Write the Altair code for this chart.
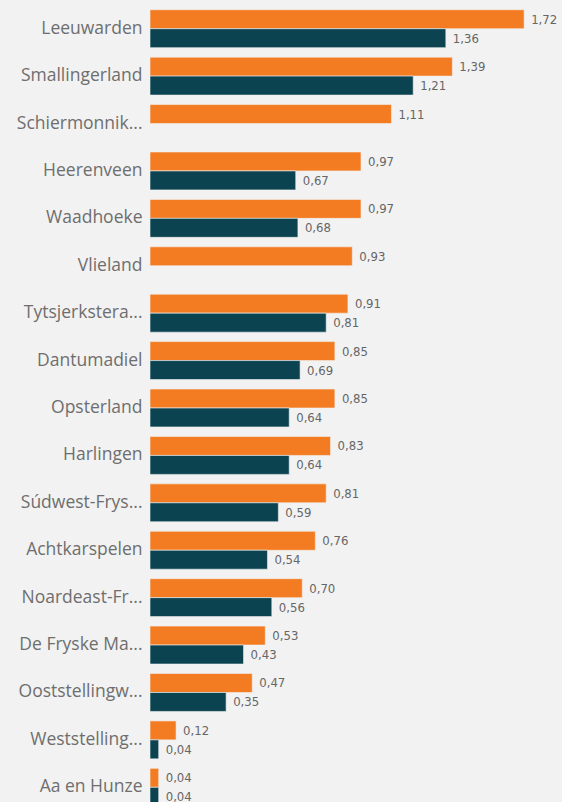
import altair as alt
import pandas as pd

categories = [
    "Leeuwarden", "Smallingerland", "Schiermonnik...", "Heerenveen", "Waadhoeke",
    "Vlieland", "Tytsjerkstera...", "Dantumadiel", "Opsterland", "Harlingen",
    "Súdwest-Frys...", "Achtkarspelen", "Noardeast-Fr...", "De Fryske Ma...",
    "Ooststellingw...", "Weststelling...", "Aa en Hunze",
]
series_a = [1.72, 1.39, 1.11, 0.97, 0.97, 0.93, 0.91, 0.85, 0.85, 0.83, 0.81, 0.76, 0.70, 0.53, 0.47, 0.12, 0.04]
series_b = [1.36, 1.21, None, 0.67, 0.68, None, 0.81, 0.69, 0.64, 0.64, 0.59, 0.54, 0.56, 0.43, 0.35, 0.04, 0.04]
series_names = ["A", "B"]
colors = ["#F37B21", "#0B4350"]

rows = []
for c, a, b in zip(categories, series_a, series_b):
    rows.append({"cat": c, "series": "A", "value": a})
    if b is not None:
        rows.append({"cat": c, "series": "B", "value": b})
df = pd.DataFrame(rows)

y_enc = alt.Y("cat:N", sort=categories,
              scale=alt.Scale(range=[5, 811], paddingInner=0.2, paddingOuter=0.1),
              axis=alt.Axis(title=None, ticks=False, domain=False, labelPadding=8,
                            labelFont="Open Sans", labelFontSize=17.5, labelColor="#6E6E6E",
                            labelLimit=200))
yoff = alt.YOffset("series:N", sort=series_names,
                   scale=alt.Scale(paddingInner=0, paddingOuter=0))
x_enc = alt.X("value:Q", scale=alt.Scale(domain=[0, 1.894], nice=False, zero=True),
              axis=None)

base = alt.Chart(df).encode(y=y_enc, yOffset=yoff, x=x_enc)

bars = base.mark_bar(clip=True, stroke="#f2f2f2", strokeWidth=0.6).encode(
    color=alt.Color("series:N", scale=alt.Scale(domain=series_names, range=colors), legend=None)
)

labels = base.transform_calculate(
    lbl="replace(format(datum.value, '.2f'), '.', ',')"
).mark_text(align="left", baseline="middle", dx=7, dy=0.5, fontSize=13,
            font="DejaVu Sans Condensed, Roboto, sans-serif", color="#666666").encode(
    text="lbl:N"
)

chart = alt.layer(bars, labels).properties(
    width=412, height=802,
    autosize=alt.AutoSizeParams(type="none"),
    padding={"left": 150, "top": 0, "right": 0, "bottom": 0},
    background="#F2F2F2",
).configure_view(stroke=None)

chart.save("out.html", embed_options={"renderer": "svg", "actions": False})
